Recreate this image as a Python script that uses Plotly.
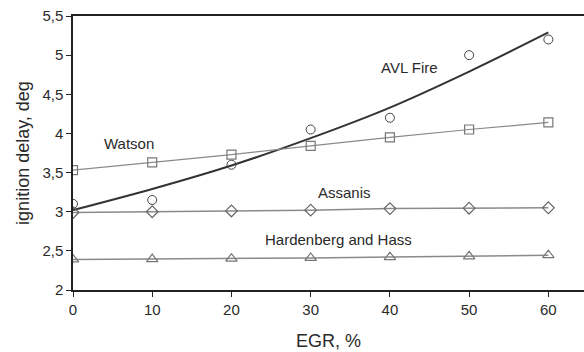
import plotly.graph_objects as go

egr = [0, 10, 20, 30, 40, 50, 60]
avl_points = [3.10, 3.15, 3.60, 4.05, 4.20, 5.00, 5.20]
avl_curve = [3.02, 3.29, 3.59, 3.94, 4.33, 4.79, 5.29]
watson = [3.53, 3.63, 3.73, 3.84, 3.95, 4.05, 4.14]
assanis = [2.99, 3.00, 3.01, 3.02, 3.04, 3.045, 3.05]
hardenberg = [2.39, 2.395, 2.40, 2.41, 2.42, 2.43, 2.445]

labels = ["AVL Fire", "Watson", "Assanis", "Hardenberg and Hass"]
label_x = [42.5, 7.1, 34.3, 33.5]
label_y = [4.84, 3.87, 3.24, 2.64]

x_ticks = [0, 10, 20, 30, 40, 50, 60]
y_ticks = [2, 2.5, 3, 3.5, 4, 4.5, 5, 5.5]

fig = go.Figure()
gray = "#8a8a8a"
dark = "#333333"

fig.add_trace(go.Scatter(x=egr, y=avl_curve, mode="lines", line=dict(color=dark, width=2, shape="spline")))
fig.add_trace(go.Scatter(x=egr, y=avl_points, mode="markers",
                         marker=dict(symbol="circle-open", size=9, color="#444444", line=dict(width=1))))
fig.add_trace(go.Scatter(x=egr, y=watson, mode="lines+markers", line=dict(color=gray, width=1.2),
                         marker=dict(symbol="square-open", size=9, color="#777777", line=dict(width=1.2))))
fig.add_trace(go.Scatter(x=egr, y=assanis, mode="lines+markers", line=dict(color=gray, width=1.5),
                         marker=dict(symbol="diamond-open", size=9, color="#666666", line=dict(width=1.2))))
fig.add_trace(go.Scatter(x=egr, y=hardenberg, mode="lines+markers", line=dict(color=gray, width=1.5),
                         marker=dict(symbol="triangle-up-open", size=10, color="#777777", line=dict(width=1.2))))

for t, xx, yy in zip(labels, label_x, label_y):
    fig.add_annotation(x=xx, y=yy, text=t, showarrow=False, xanchor="center", yanchor="middle",
                       font=dict(size=15, color="#2a2a2a"))

fig.update_layout(
    width=584, height=352,
    margin=dict(l=73, r=0, t=16, b=62),
    paper_bgcolor="white", plot_bgcolor="white",
    showlegend=False,
    separators=", ",
    font=dict(family="Liberation Sans, Arial, sans-serif", size=15, color="#2a2a2a"),
    xaxis=dict(range=[0, 64.5], tickvals=x_ticks, showgrid=False, zeroline=False,
               showline=True, linecolor="#222222", linewidth=1.5, mirror=True,
               ticks="outside", ticklen=5, tickcolor="#222222",
               title=dict(text="EGR, %", standoff=18)),
    yaxis=dict(range=[2, 5.5], tickvals=y_ticks, showgrid=False, zeroline=False,
               showline=True, linecolor="#222222", linewidth=1.5,
               ticks="outside", ticklen=5, tickcolor="#222222",
               title=dict(text="ignition delay, deg", standoff=8)),
)

fig.write_html("out.html")
